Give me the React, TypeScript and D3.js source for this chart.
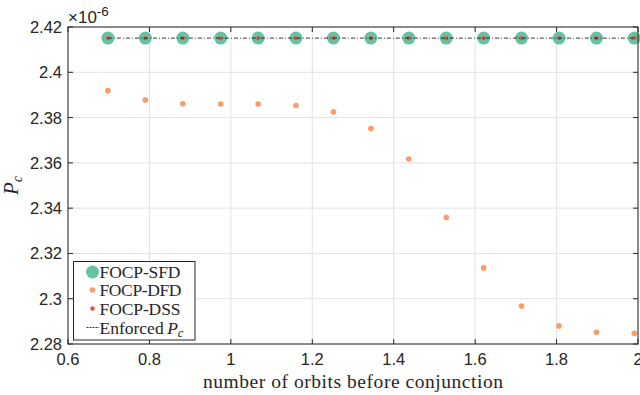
import * as d3 from "d3";
import { useEffect, useRef } from "react";

// number of orbits before conjunction
const orbits = [0.698, 0.79, 0.882, 0.975, 1.067, 1.16, 1.252, 1.344, 1.437, 1.529, 1.621, 1.714, 1.806, 1.898, 1.991];
// collision probability, in units of 1e-6
const pcSFD = [2.4151, 2.4151, 2.4151, 2.4151, 2.4151, 2.4151, 2.4151, 2.4151, 2.4151, 2.4151, 2.4151, 2.4151, 2.4151, 2.4151, 2.4151];
const pcDFD = [2.3919, 2.3878, 2.3861, 2.386, 2.386, 2.3853, 2.3825, 2.3752, 2.3617, 2.3359, 2.3136, 2.2968, 2.288, 2.2852, 2.2847];
const pcDSS = [2.4151, 2.4151, 2.4151, 2.4151, 2.4151, 2.4151, 2.4151, 2.4151, 2.4151, 2.4151, 2.4151, 2.4151, 2.4151, 2.4151, 2.4151];
const enforcedPc = 2.4151;

const xTicks = [0.6, 0.8, 1, 1.2, 1.4, 1.6, 1.8, 2];
const yTicks = [2.28, 2.3, 2.32, 2.34, 2.36, 2.38, 2.4, 2.42];
const legendLabels = ["FOCP-SFD", "FOCP-DFD", "FOCP-DSS", "Enforced"];

const width = 640;
const height = 395;
const marginLeft = 68;
const marginRight = 2;
const marginTop = 27;
const marginBottom = 51;

const colorSFD = "#66c2a5";
const colorDFD = "#fc9a68";
const colorDSS = "#e5533f";
const axisColor = "#262626";
const sans = "'Liberation Sans', Arial, sans-serif";
const serif = "'Liberation Serif', 'Times New Roman', serif";

export default function App() {
  const svgRef = useRef<SVGSVGElement>(null);

  useEffect(() => {
    if (!svgRef.current) return;
    const svg = d3.select(svgRef.current);
    svg.selectAll("*").remove();

    const x = d3.scaleLinear([0.6, 2], [marginLeft, width - marginRight]);
    const y = d3.scaleLinear([2.28, 2.42], [height - marginBottom, marginTop]);
    const fmt = d3.format("~g");
    const x0 = marginLeft, x1 = width - marginRight;
    const y0 = height - marginBottom, y1 = marginTop;

    // grid
    const grid = svg.append("g").attr("stroke", "#e3e3e3").attr("stroke-width", 1);
    grid.selectAll(".gx").data(xTicks).join("line")
      .attr("x1", (d) => x(d)).attr("x2", (d) => x(d)).attr("y1", y0).attr("y2", y1);
    grid.selectAll(".gy").data(yTicks).join("line")
      .attr("x1", x0).attr("x2", x1).attr("y1", (d) => y(d)).attr("y2", (d) => y(d));

    // series
    svg.append("g").attr("fill", colorSFD).selectAll("circle").data(orbits).join("circle")
      .attr("cx", (d) => x(d)).attr("cy", (d, i) => y(pcSFD[i])).attr("r", 6.5);
    svg.append("g").attr("fill", colorDFD).selectAll("circle").data(orbits).join("circle")
      .attr("cx", (d) => x(d)).attr("cy", (d, i) => y(pcDFD[i])).attr("r", 2.8);
    svg.append("g").attr("fill", colorDSS).selectAll("circle").data(orbits).join("circle")
      .attr("cx", (d) => x(d)).attr("cy", (d, i) => y(pcDSS[i])).attr("r", 2.2);
    // enforced Pc, dash-dot over the markers
    svg.append("line")
      .attr("x1", x(orbits[0])).attr("x2", x(orbits[orbits.length - 1]))
      .attr("y1", y(enforcedPc)).attr("y2", y(enforcedPc))
      .attr("stroke", "#000").attr("stroke-width", 0.8)
      .attr("stroke-dasharray", "4,2,1,2");

    // axes box
    const axes = svg.append("g").attr("stroke", axisColor).attr("stroke-width", 1);
    axes.append("rect").attr("x", x0).attr("y", y1).attr("width", x1 - x0).attr("height", y0 - y1)
      .attr("fill", "none");
    const tl = 5;
    axes.selectAll(".tx").data(xTicks).join("path")
      .attr("d", (d) => `M${x(d)},${y0}v${-tl}M${x(d)},${y1}v${tl}`);
    axes.selectAll(".ty").data(yTicks).join("path")
      .attr("d", (d) => `M${x0},${y(d)}h${tl}M${x1},${y(d)}h${-tl}`);

    // tick labels
    svg.append("g").attr("font-family", sans).attr("font-size", 16.5).attr("fill", axisColor)
      .attr("text-anchor", "middle")
      .selectAll("text").data(xTicks).join("text")
      .attr("x", (d) => x(d)).attr("y", y0 + 21).text((d) => fmt(d));
    svg.append("g").attr("font-family", sans).attr("font-size", 16.5).attr("fill", axisColor)
      .attr("text-anchor", "end")
      .selectAll("text").data(yTicks).join("text")
      .attr("x", x0 - 6).attr("y", (d) => y(d) + 6).text((d) => fmt(d));

    // exponent
    const ex = svg.append("text").attr("font-family", sans).attr("font-size", 17).attr("fill", axisColor)
      .attr("x", x0).attr("y", 23);
    ex.append("tspan").text("×10");
    ex.append("tspan").attr("font-size", 13.5).attr("dy", -7).text("-6");

    // axis labels
    svg.append("text").attr("font-family", serif).attr("font-size", 19.5).attr("fill", axisColor)
      .attr("text-anchor", "middle").attr("x", (x0 + x1) / 2).attr("y", 388)
      .attr("textLength", 300).attr("lengthAdjust", "spacing")
      .text("number of orbits before conjunction");
    const yl = svg.append("text").attr("font-family", serif).attr("font-size", 21).attr("fill", axisColor)
      .attr("text-anchor", "middle")
      .attr("transform", `translate(18,${(y0 + y1) / 2}) rotate(-90)`);
    yl.append("tspan").attr("font-style", "italic").text("P");
    yl.append("tspan").attr("font-style", "italic").attr("font-size", 14).attr("dy", 4).text("c");

    // legend
    const lg = svg.append("g");
    lg.append("rect").attr("x", 73.5).attr("y", 261.5).attr("width", 121.5).attr("height", 78.5)
      .attr("fill", "#fff").attr("stroke", axisColor).attr("stroke-width", 1);
    const rows = [272, 290, 308.5, 327.5];
    const mk = lg.append("g");
    mk.append("circle").attr("cx", 92.5).attr("cy", rows[0]).attr("r", 6.5).attr("fill", colorSFD);
    mk.append("circle").attr("cx", 92.5).attr("cy", rows[1]).attr("r", 2.8).attr("fill", colorDFD);
    mk.append("circle").attr("cx", 92.5).attr("cy", rows[2]).attr("r", 2.2).attr("fill", colorDSS);
    mk.append("line").attr("x1", 86.5).attr("x2", 99).attr("y1", rows[3]).attr("y2", rows[3])
      .attr("stroke", "#000").attr("stroke-width", 0.8).attr("stroke-dasharray", "2,1");
    const lt = lg.append("g").attr("font-family", serif).attr("font-size", 17.5).attr("fill", axisColor);
    const lens = [81, 82, 81];
    legendLabels.forEach((s, i) => {
      const t = lt.append("text").attr("x", 99.5).attr("y", rows[i] + 6);
      if (i < 3) {
        t.attr("textLength", lens[i]).attr("lengthAdjust", "spacing").text(s);
      } else {
        t.append("tspan").text(s);
        t.append("tspan").attr("font-style", "italic").text("\u2009P");
        t.append("tspan").attr("font-style", "italic").attr("font-size", 12.5).attr("dy", 3).text("c");
      }
    });
  }, []);

  return (
    <svg
      ref={svgRef}
      width={width}
      height={height}
      viewBox={`0 0 ${width} ${height}`}
      style={{ position: "absolute", left: 0, top: 0, background: "#fff" }}
    />
  );
}
